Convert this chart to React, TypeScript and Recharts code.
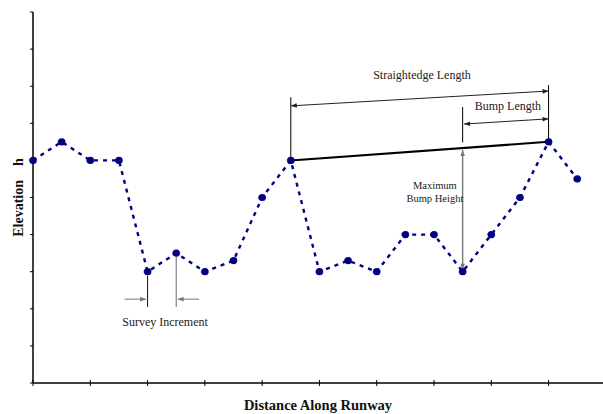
import { LineChart, Line, XAxis, YAxis, ReferenceLine, ReferenceDot, Label } from "recharts";

// survey stations along the runway and the measured elevation at each
const stations = [0, 1, 2, 3, 4, 5, 6, 7, 8, 9, 10, 11, 12, 13, 14, 15, 16, 17, 18, 19];
const elevations = [6, 6.5, 6, 6, 3, 3.5, 3, 3.3, 5, 6, 3, 3.3, 3, 4, 4, 3, 4, 5, 6.5, 5.5];
const xTicks = [0, 2, 4, 6, 8, 10, 12, 14, 16, 18];
const yTicks = [0, 1, 2, 3, 4, 5, 6, 7, 8, 9, 10];

const data = stations.map((s, i) => ({ station: s, elevation: elevations[i] }));

const FONT = '"Liberation Serif", "Times New Roman", serif';
const NAVY = "#000080";

// straightedge rests on station 9 and station 18
const seStart = 9;
const seEnd = 18;
const bumpAt = 15;

const head = (x: number, y: number, fx: number, fy: number, color: string) => {
  // triangle pointing at (x,y), coming from (fx,fy)
  const dx = x - fx;
  const dy = y - fy;
  const len = Math.sqrt(dx * dx + dy * dy) || 1;
  const ux = dx / len;
  const uy = dy / len;
  const L = 6;
  const W = 2.3;
  const bx = x - ux * L;
  const by = y - uy * L;
  return (
    <polygon
      points={`${x},${y} ${bx - uy * W},${by + ux * W} ${bx + uy * W},${by - ux * W}`}
      fill={color}
    />
  );
};

const arrow = (atStart: boolean, atEnd: boolean, color: string, width = 1) => (p: any) => {
  const { x1, y1, x2, y2 } = p;
  return (
    <g>
      <line x1={x1} y1={y1} x2={x2} y2={y2} stroke={color} strokeWidth={width} />
      {atStart && head(x1, y1, x2, y2, color)}
      {atEnd && head(x2, y2, x1, y1, color)}
    </g>
  );
};

const note = (text: string, size: number) => (p: any) => (
  <text
    x={p.cx}
    y={p.cy}
    textAnchor="middle"
    dominantBaseline="central"
    fontFamily={FONT}
    fontSize={size}
    fill="#222"
  >
    {text}
  </text>
);

const CrossTick = (p: any) => (
  <line x1={p.x} x2={p.x} y1={p.y - 3} y2={p.y + 3} stroke="#000" strokeWidth={1} />
);
const NoTick = () => <g />;

const yLabel = (p: any) => {
  const { x, y, width, height } = p.viewBox;
  const cx = x + width / 2 + 2;
  const cy = y + height / 2;
  return (
    <text
      x={cx}
      y={cy}
      transform={`rotate(-90 ${cx} ${cy})`}
      textAnchor="middle"
      dominantBaseline="central"
      fontFamily={FONT}
      fontWeight="bold"
      fontSize={14}
      fill="#111"
      xmlSpace="preserve"
    >
      {"Elevation    h"}
    </text>
  );
};

const xLabel = (p: any) => {
  const { x, y, width } = p.viewBox;
  return (
    <text
      x={x + width / 2}
      y={y + 22}
      textAnchor="middle"
      dominantBaseline="central"
      fontFamily={FONT}
      fontWeight="bold"
      fontSize={14.5}
      fill="#111"
    >
      Distance Along Runway
    </text>
  );
};

export default function App() {
  const seY1 = elevations[seStart];
  const seY2 = elevations[seEnd];
  const seAtBump = seY1 + ((bumpAt - seStart) / (seEnd - seStart)) * (seY2 - seY1);
  return (
    <div style={{ position: "absolute", left: 0, top: 0, width: 603, height: 414, background: "#fff" }}>
      <LineChart width={603} height={414} data={data} margin={{ top: 12, right: 0, bottom: 0, left: 0 }}>
        <XAxis
          type="number"
          dataKey="station"
          domain={[0, 19.9]}
          ticks={xTicks}
          interval={0}
          tickSize={0}
          tickMargin={0}
          tick={CrossTick}
          axisLine={{ stroke: "#000", strokeWidth: 1.5 }}
          height={31}
        >
          <Label content={xLabel} />
        </XAxis>
        <YAxis
          type="number"
          domain={[0, 10]}
          ticks={yTicks}
          interval={0}
          tickSize={3}
          tick={NoTick}
          tickLine={{ stroke: "#000" }}
          axisLine={{ stroke: "#000", strokeWidth: 1.5 }}
          width={33}
        >
          <Label content={yLabel} />
        </YAxis>

        {/* straightedge */}
        <ReferenceLine
          segment={[{ x: seStart, y: seY1 }, { x: seEnd, y: seY2 }]}
          stroke="#000"
          strokeWidth={2}
        />
        {/* extension lines */}
        <ReferenceLine segment={[{ x: seStart, y: seY1 + 0.05 }, { x: seStart, y: 7.7 }]} stroke="#000" strokeWidth={1} />
        <ReferenceLine segment={[{ x: seEnd, y: seY2 + 0.05 }, { x: seEnd, y: 8.03 }]} stroke="#000" strokeWidth={1} />
        <ReferenceLine segment={[{ x: bumpAt, y: seAtBump + 0.15 }, { x: bumpAt, y: 7.44 }]} stroke="#000" strokeWidth={1} />

        {/* dimension arrows */}
        <ReferenceLine
          segment={[{ x: seStart, y: 7.47 }, { x: seEnd, y: 7.87 }]}
          shape={arrow(true, true, "#222")}
        />
        <ReferenceLine
          segment={[{ x: bumpAt + 0.05, y: 6.98 }, { x: seEnd, y: 7.12 }]}
          shape={arrow(true, true, "#222")}
        />
        <ReferenceLine
          segment={[{ x: bumpAt, y: seAtBump - 0.05 }, { x: bumpAt, y: elevations[bumpAt] + 0.05 }]}
          shape={arrow(true, true, "#777", 1.4)}
        />

        {/* survey increment */}
        <ReferenceLine segment={[{ x: 4, y: 2.9 }, { x: 4, y: 2.05 }]} stroke="#111" strokeWidth={1} />
        <ReferenceLine segment={[{ x: 5, y: 3.4 }, { x: 5, y: 2.05 }]} stroke="#666" strokeWidth={1} />
        <ReferenceLine segment={[{ x: 3.2, y: 2.26 }, { x: 3.95, y: 2.26 }]} shape={arrow(false, true, "#777")} />
        <ReferenceLine segment={[{ x: 5.8, y: 2.26 }, { x: 5.05, y: 2.26 }]} shape={arrow(false, true, "#777")} />

        <Line
          type="linear"
          dataKey="elevation"
          stroke={NAVY}
          strokeWidth={2.4}
          strokeDasharray="4 5"
          dot={{ r: 3.6, fill: NAVY, stroke: NAVY, strokeWidth: 0.5 }}
          isAnimationActive={false}
        />

        <ReferenceDot x={13.58} y={8.3} r={1} shape={note("Straightedge Length", 12)} />
        <ReferenceDot x={16.58} y={7.47} r={1} shape={note("Bump Length", 12)} />
        <ReferenceDot x={14.03} y={5.31} r={1} shape={note("Maximum", 10.5)} />
        <ReferenceDot x={14.03} y={4.96} r={1} shape={note("Bump Height", 10.5)} />
        <ReferenceDot x={4.61} y={1.64} r={1} shape={note("Survey Increment", 12)} />
      </LineChart>
    </div>
  );
}
